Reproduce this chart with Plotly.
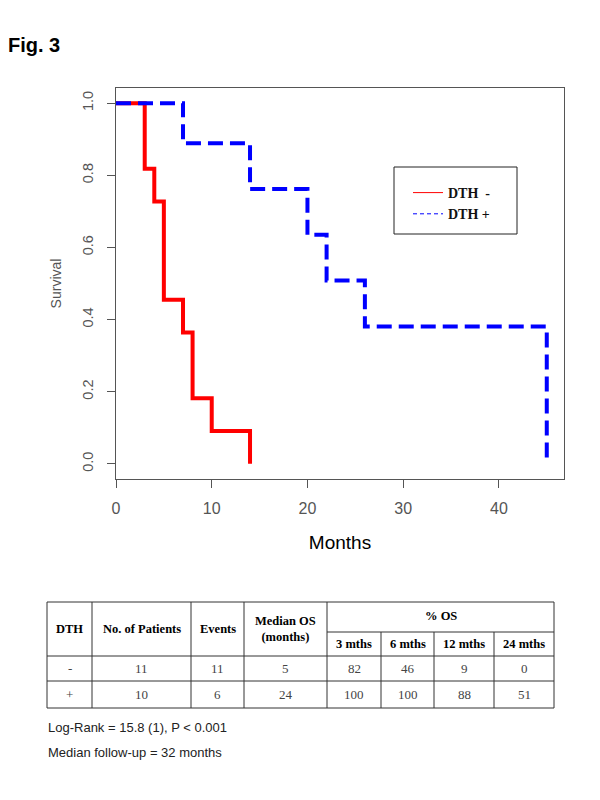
import plotly.graph_objects as go

# ---------------- data ----------------
neg_months = [0, 3, 4, 5, 7, 8, 10, 14]
neg_surv = [1.0, 0.818, 0.727, 0.455, 0.364, 0.182, 0.091, 0.0]
pos_months = [0, 7, 14, 20, 22, 26, 45]
pos_surv = [1.0, 0.889, 0.762, 0.635, 0.508, 0.381, 0.0]

x_ticks = [0, 10, 20, 30, 40]
y_ticks = [0.0, 0.2, 0.4, 0.6, 0.8, 1.0]
y_tick_text = ["0.0", "0.2", "0.4", "0.6", "0.8", "1.0"]

header_cols = ["DTH", "No. of Patients", "Events", "Median OS<br>(months)"]
os_header = "% OS"
os_timepoints = ["3 mths", "6 mths", "12 mths", "24 mths"]
groups = ["-", "+"]
n_patients = [11, 10]
events = [11, 6]
median_os = [5, 24]
os_3 = [82, 100]
os_6 = [46, 100]
os_12 = [9, 88]
os_24 = [0, 51]

notes = ["Log-Rank = 15.8 (1), P < 0.001", "Median follow-up = 32 months"]

# ---------------- layout geometry (pixels, in page coordinates) ----------------
OFF = 8  # page body margin
W, H = 600 - OFF, 800 - OFF
PL, PR, PT, PB = 116, 564, 88, 479


def px(x):
    return (x - PL) / (PR - PL)


def py(y):
    return (PB - y) / (PB - PT)


RED = "#ff0000"
BLUE = "#0000ff"
GRAY = "#555555"
SANS = "Liberation Sans, Arial, sans-serif"
SERIF = "Liberation Serif, Times New Roman, serif"

fig = go.Figure()

fig.add_trace(go.Scatter(x=neg_months, y=neg_surv, mode="lines", line_shape="hv",
                         line=dict(color=RED, width=4), showlegend=False, hoverinfo="x+y"))
fig.add_trace(go.Scatter(x=pos_months, y=pos_surv, mode="lines", line_shape="hv",
                         line=dict(color=BLUE, width=4, dash="15px,7px"), showlegend=False,
                         hoverinfo="x+y"))
# legend entries
fig.add_trace(go.Scatter(x=[None], y=[None], mode="lines", name="<b>DTH  -</b>",
                         line=dict(color=RED, width=1)))
fig.add_trace(go.Scatter(x=[None], y=[None], mode="lines", name="<b>DTH +</b>",
                         line=dict(color=BLUE, width=1, dash="4px,3px")))

shapes = []
annotations = []

# legend box
shapes.append(dict(type="rect", xref="paper", yref="paper",
                   x0=px(394), x1=px(517), y0=py(167), y1=py(234),
                   line=dict(color="#222", width=1)))

# ---------------- table ----------------
col_x = [47, 92, 191, 244, 327, 381, 434, 494, 554]
row_y = [602, 632, 656, 681, 708]
LC = "#333333"


def hline(x0, x1, y):
    shapes.append(dict(type="line", xref="paper", yref="paper", x0=px(x0), x1=px(x1),
                       y0=py(y), y1=py(y), line=dict(color=LC, width=1)))


def vline(x, y0, y1):
    shapes.append(dict(type="line", xref="paper", yref="paper", x0=px(x), x1=px(x),
                       y0=py(y0), y1=py(y1), line=dict(color=LC, width=1)))


hline(col_x[0], col_x[-1], row_y[0])
hline(col_x[4], col_x[-1], row_y[1])
hline(col_x[0], col_x[-1], row_y[2])
hline(col_x[0], col_x[-1], row_y[3])
hline(col_x[0], col_x[-1], row_y[4])
for i, cx in enumerate(col_x):
    if i in (5, 6, 7):
        vline(cx, row_y[1], row_y[4])
    else:
        vline(cx, row_y[0], row_y[4])


def text(x, y, s, size=13, color="#000", family=SERIF, anchor="center"):
    annotations.append(dict(xref="paper", yref="paper", x=px(x), y=py(y), text=s,
                            showarrow=False, xanchor=anchor, yanchor="middle",
                            font=dict(family=family, size=size, color=color)))


hdr_y = (row_y[0] + row_y[2]) / 2
for i, h in enumerate(header_cols):
    text((col_x[i] + col_x[i + 1]) / 2, hdr_y, "<b>%s</b>" % h, size=12.5)
text((col_x[4] + col_x[-1]) / 2, (row_y[0] + row_y[1]) / 2 - 1, "<b>%s</b>" % os_header, size=12.5)
for j, t in enumerate(os_timepoints):
    text((col_x[4 + j] + col_x[5 + j]) / 2, (row_y[1] + row_y[2]) / 2, "<b>%s</b>" % t, size=12.5)

rows = list(zip(groups, n_patients, events, median_os, os_3, os_6, os_12, os_24))
for r, row in enumerate(rows):
    yc = (row_y[2 + r] + row_y[3 + r]) / 2
    for c, v in enumerate(row):
        text((col_x[c] + col_x[c + 1]) / 2, yc, str(v), size=13, color="#444")

# notes
text(46, 727, notes[0], size=13, color="#222", family=SANS, anchor="left")
text(46, 752, notes[1], size=13, color="#222", family=SANS, anchor="left")

# figure title
annotations.append(dict(xref="paper", yref="paper", x=px(6), y=py(45), text="<b>Fig. 3</b>",
                        showarrow=False, xanchor="left", yanchor="middle",
                        font=dict(family=SANS, size=20, color="#000")))

fig.update_layout(
    width=W, height=H,
    margin=dict(l=PL - OFF, r=W - (PR - OFF), t=PT - OFF, b=H - (PB - OFF), pad=0),
    paper_bgcolor="white", plot_bgcolor="white",
    showlegend=True,
    legend=dict(x=px(408), y=py(177), xanchor="left", yanchor="top",
                bgcolor="rgba(0,0,0,0)", borderwidth=0, itemwidth=30,
                font=dict(family=SERIF, size=14, color="#111"), tracegroupgap=0),
    shapes=shapes, annotations=annotations,
    xaxis=dict(range=[0, 46.8], tickvals=x_ticks, ticks="outside", ticklen=8,
               tickcolor=GRAY, showline=True, linecolor=GRAY, linewidth=1, mirror=True,
               showgrid=False, zeroline=False, ticklabelstandoff=7,
               tickfont=dict(family=SANS, size=16, color=GRAY),
               title=dict(text="Months", standoff=19,
                          font=dict(family=SANS, size=19, color="#000"))),
    yaxis=dict(range=[-0.042, 1.042], tickvals=y_ticks, ticktext=y_tick_text,
               ticks="outside", ticklen=8, tickangle=-90,
               tickcolor=GRAY, showline=True, linecolor=GRAY, linewidth=1, mirror=True,
               showgrid=False, zeroline=False, ticklabelstandoff=8,
               tickfont=dict(family=SANS, size=14.5, color=GRAY),
               title=dict(text="Survival", standoff=15,
                          font=dict(family=SANS, size=14, color=GRAY))),
)

fig.write_html("out.html")
